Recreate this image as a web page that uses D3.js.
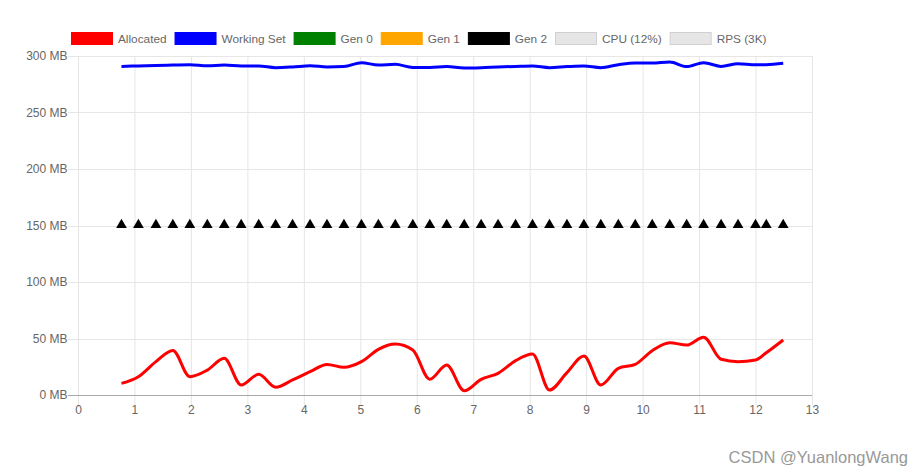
<!DOCTYPE html>
<html><head><meta charset="utf-8">
<script src="https://cdn.jsdelivr.net/npm/d3@7"></script>
<style>
body{margin:0;background:#fff;}
svg{display:block;font-family:"Liberation Sans",Arial,sans-serif;}
</style>
</head><body>
<svg id="c" width="923" height="476"></svg>
<script>
// ---- data ----
const times = [0.77,1.07,1.38,1.68,1.98,2.29,2.59,2.89,3.20,3.50,3.80,4.11,4.41,4.71,5.02,5.32,5.62,5.93,6.23,6.53,
               6.84,7.14,7.44,7.75,8.05,8.35,8.66,8.96,9.26,9.57,9.87,10.17,10.48,10.78,11.08,11.39,11.69,12.00,12.19,12.49];
const allocated = [10.3,16.2,29.5,39.4,16.2,22.0,32.5,8.8,18.3,6.8,13.3,20.6,27.1,24.5,29.5,40.4,45.1,39.8,13.9,26.5,
                   3.8,13.9,19.2,30.4,36.3,4.4,19.8,34.5,8.8,23.6,27.1,39.2,46.3,44.2,51.1,31.6,29.5,31.0,37.4,48.7];
const workingSet = [290.8,291.2,291.7,292.0,292.3,291.4,292.0,291.2,291.2,289.7,290.3,291.4,290.3,290.6,294.1,292.0,292.6,289.9,289.9,290.7,
                    289.4,289.7,290.3,290.8,291.2,289.7,290.6,291.2,289.7,292.3,293.8,293.8,294.7,290.6,294.1,290.8,293.2,292.3,292.3,293.5];
const gen2 = [150,150,150,150,150,150,150,150,150,150,150,150,150,150,150,150,150,150,150,150,
              150,150,150,150,150,150,150,150,150,150,150,150,150,150,150,150,150,150,150,150];
const legendNames = ["Allocated","Working Set","Gen 0","Gen 1","Gen 2","CPU (12%)","RPS (3K)"];
const legendFill = ["#ff0000","#0000ff","#008000","#ffa500","#000000","#e6e6e6","#e6e6e6"];
const legendStroke = ["#ff0000","#0000ff","#008000","#ffa500","#000000","#d0d0d0","#d0d0d0"];
const xTickValues = [0,1,2,3,4,5,6,7,8,9,10,11,12,13];
const yTickValues = [0,50,100,150,200,250,300];

// ---- layout ----
const L = 78, R = 812, T = 56, B = 395;
const svg = d3.select("#c");
const x = d3.scaleLinear().domain([0,13]).range([L,R]);
const y = d3.scaleLinear().domain([0,300]).range([B,T]);

// grid lines
const grid = svg.append("g");
grid.selectAll(".vg").data(xTickValues).join("line")
  .attr("x1", d => x(d) + 0.5).attr("x2", d => x(d) + 0.5)
  .attr("y1", T).attr("y2", B + 10)
  .attr("stroke", "#e6e6e6").attr("stroke-width", 1);
grid.selectAll(".hg").data(yTickValues).join("line")
  .attr("x1", L - 10).attr("x2", R)
  .attr("y1", d => Math.round(y(d)) + 0.5).attr("y2", d => Math.round(y(d)) + 0.5)
  .attr("stroke", d => d === 0 ? "#a8a8a8" : "#e6e6e6").attr("stroke-width", 1);

// axes (labels)
const yAxis = svg.append("g").attr("transform", `translate(${L},0)`)
  .call(d3.axisLeft(y).tickValues(yTickValues).tickFormat(d => d + " MB").tickSize(10).tickPadding(0.5));
yAxis.select(".domain").remove();
yAxis.selectAll(".tick line").remove();
yAxis.selectAll("text").attr("fill", "#666").style("font-size", "12px").style("font-family", '"Liberation Sans",Arial,sans-serif');

const xAxis = svg.append("g").attr("transform", `translate(0,${B})`)
  .call(d3.axisBottom(x).tickValues(xTickValues).tickFormat(d3.format("d")).tickSize(10).tickPadding(0.5));
xAxis.select(".domain").remove();
xAxis.selectAll(".tick line").remove();
xAxis.selectAll("text").attr("fill", "#666").style("font-size", "12px").style("font-family", '"Liberation Sans",Arial,sans-serif');

// lines
const lineA = d3.line().x((d,i) => x(times[i])).y(d => y(d)).curve(d3.curveMonotoneX);
svg.append("path").datum(workingSet).attr("d", lineA)
  .attr("fill", "none").attr("stroke", "#0000ff").attr("stroke-width", 3);
svg.append("path").datum(allocated).attr("d", lineA)
  .attr("fill", "none").attr("stroke", "#ff0000").attr("stroke-width", 3);

// gen2 triangles
svg.append("g").selectAll("path").data(gen2).join("path")
  .attr("transform", (d,i) => `translate(${x(times[i])},${y(d) - 0.5})`)
  .attr("d", d3.symbol().type(d3.symbolTriangle).size(50))
  .attr("fill", "#000");

// legend
const leg = svg.append("g");
const items = leg.selectAll("g").data(legendNames).join("g");
items.append("rect").attr("x", 0.5).attr("y", 32.5).attr("width", 41).attr("height", 12)
  .attr("fill", (d,i) => legendFill[i]).attr("stroke", (d,i) => legendStroke[i]).attr("stroke-width", 1);
items.append("text").attr("x", 47).attr("y", 43).text(d => d)
  .attr("fill", "#666").style("font-size", "11.8px");
let widths = [];
items.each(function(){ widths.push(47 + this.querySelector("text").getComputedTextLength() + 8); });
let cx = 71;
items.each(function(d,i){ d3.select(this).attr("transform", `translate(${cx},0)`); cx += widths[i]; });

// watermark
svg.append("text").attr("x", 908).attr("y", 463).attr("text-anchor", "end")
  .attr("fill", "#999").style("font-size", "16.5px").text("CSDN @YuanlongWang");
</script>
</body></html>
